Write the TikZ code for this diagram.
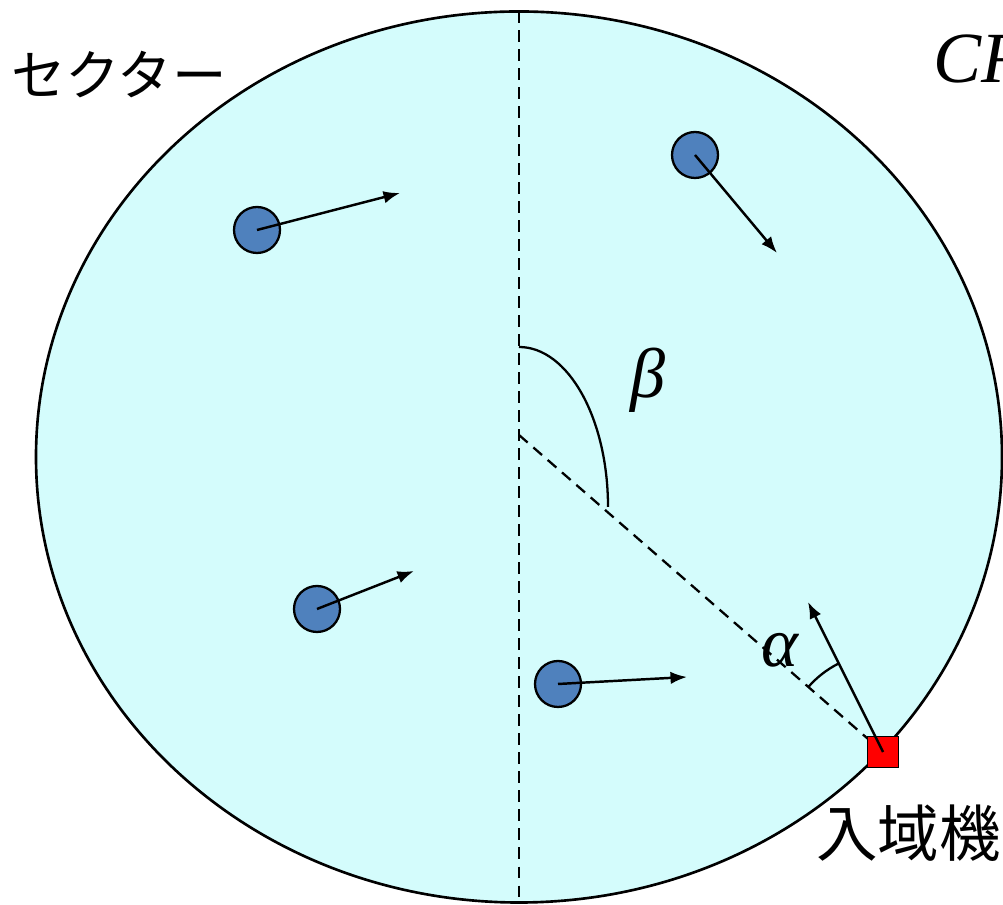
\documentclass[tikz,border=0pt]{standalone}
\usepackage{fontspec}
\setmainfont{Liberation Serif}
\newfontfamily\jpfont{Noto Sans CJK JP}
\usetikzlibrary{shapes.geometric, arrows.meta}
\definecolor{skycyan}{RGB}{212,252,252}
\definecolor{planeblue}{RGB}{79,129,189}
\begin{document}
\begin{tikzpicture}[x=0.2mm, y=0.2mm,
			>={Latex[length=3.3mm,width=2.5mm]},   %Pfeilspitzen
			plane/.style={circle, draw, line width=1.3pt, fill=planeblue, minimum size=9.2mm, inner sep=0pt},
			entrybox/.style={draw, line width=1.1pt, fill=red, minimum size=6.2mm, inner sep=0pt},
			guide/.style={dash pattern=on 2.3mm off 1.5mm, line width=1.3pt},
			greek/.style={font=\fontsize{40}{42}\selectfont\itshape},
			jptext/.style={font=\jpfont\fontsize{#1}{#1}\selectfont}]
			%Bildbereich
			\useasboundingbox (0,0) rectangle (1003,905);
			% Sektor zeichnen
			\node[ellipse, draw, line width=1.5pt, fill=skycyan, minimum width=193.2mm, minimum height=178.2mm, inner sep=0pt, outer sep=0pt] (sector) at (519,448) {};
			\coordinate (hub) at (519,470);
			\draw[guide] (sector.north) -- (sector.south);
			% Flugzeuge mit Richtung
			\foreach \n/\px/\py/\hx/\hy in {1/257/675/400/712, 2/695/750/777/652, 3/317/296/414/334, 4/558/221/687/228} {
				\node[plane] (p\n) at (\px,\py) {};
				\coordinate (h\n) at (\hx,\hy);
				\draw[->, line width=1.4pt] (p\n.center) -- (h\n);
			}
			% Winkel beta
			\draw[line width=1.3pt] (519,558) arc[start angle=90, end angle=0, x radius=17.8mm, y radius=32mm];
			\node[greek] (beta) at (648,525) {β};
			% Eintrittspunkt
			\draw[guide] (hub) -- (883,153);
			\node[entrybox] (entry) at (883,153) {};
			\coordinate (head) at (808,303);
			\draw[->, line width=1.4pt] (entry.center) -- (head);
			% Winkel alpha
			\draw[line width=1.3pt] ([shift={(139:19.8mm)}]entry.center) arc[start angle=139, end angle=117, radius=19.8mm];
			\node[greek] (alpha) at (780,255) {α};
			%Beschriftung
			\node[jptext=31] (sectorname) at (119,830) {セクター};
			\node[greek, font=\fontsize{41}{43}\selectfont\itshape, anchor=base west] (cr) at (927,822) {CR};
			\node[jptext=35, anchor=west] (entryname) at (810,72) {入域機};
		\end{tikzpicture}
\end{document}
